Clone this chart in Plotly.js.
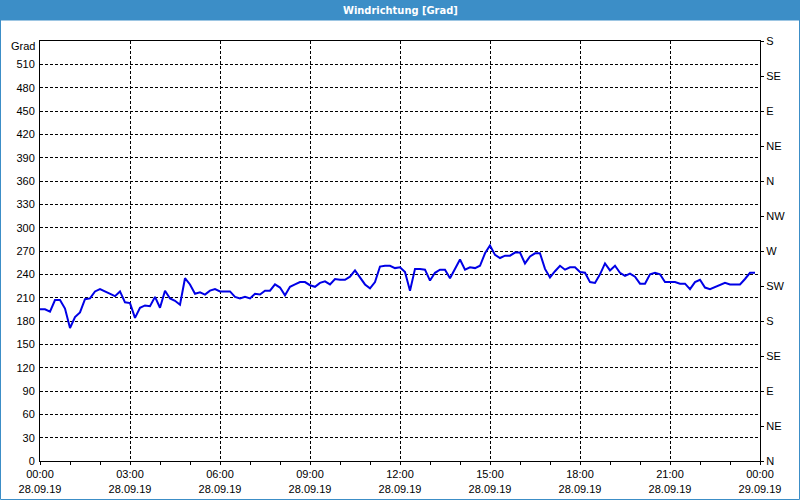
<!DOCTYPE html>
<html>
<head>
<meta charset="utf-8">
<script src="https://cdn.plot.ly/plotly-3.0.1.min.js"></script>
<style>html,body{margin:0;padding:0;background:#fff;}#chart{width:800px;height:500px;}</style>
</head>
<body>
<div id="chart"></div>
<script>
// Wind direction in degrees, one value every 10 minutes from 28.09.19 00:00
const startTime = '2019-09-28 00:00';
const endTime = '2019-09-29 00:00';
const stepMs = 600000;
const windDir = [
  195,195,192,207,207,196,171,185,191,208,209,218,221,218,216,212,218,204,203,184,
  197,200,199,211,197,219,209,206,201,235,227,215,217,214,219,221,218,
  218,218,211,209,211,209,215,214,219,219,227,223,213,224,227,230,230,226,224,229,
  231,227,234,233,233,237,245,236,227,222,230,250,251,251,248,249,
  243,219,247,247,246,232,242,246,246,235,247,259,246,249,248,251,267,277,265,261,
  264,264,268,268,254,263,267,267,247,236,244,251,246,249,249,243,
  242,230,229,240,254,245,251,242,238,241,237,228,228,240,242,240,230,230,230,228,
  228,221,230,233,223,221,224,227,229,227,227,227,234,242,242
];
const leftTicks = [0,30,60,90,120,150,180,210,240,270,300,330,360,390,420,450,480,510];
const rightTickVals = [0,45,90,135,180,225,270,315,360,405,450,495,540];
const rightTickText = ['N','NE','E','SE','S','SW','W','NW','N','NE','E','SE','S'];
const titleText = 'Windrichtung [Grad]';
const unitLabel = 'Grad';

const W = 800, H = 500, L = 40, R = 40, T = 41, B = 39;
const pw = W - L - R, ph = H - T - B;
const px = x => (x - L) / pw;
const py = y => (H - B - y) / ph;

const font = {family: 'Liberation Sans, Arial, sans-serif', size: 11, color: '#000'};

const trace = {
  type: 'scatter', mode: 'lines',
  x0: startTime, dx: stepMs,
  y: windDir,
  line: {color: 'rgb(0,0,230)', width: 2},
  hoverinfo: 'skip'
};
const dummy = {type:'scatter', mode:'lines', x:[startTime], y:[0], yaxis:'y2', showlegend:false, hoverinfo:'skip', line:{color:'rgba(0,0,0,0)'}};

const layout = {
  width: W, height: H,
  margin: {l: L, r: R, t: T, b: B, pad: 0},
  paper_bgcolor: '#ffffff', plot_bgcolor: '#ffffff',
  showlegend: false,
  font: font,
  xaxis: {
    type: 'date', range: [startTime, endTime],
    tick0: startTime, dtick: 3*3600000,
    tickformat: '%H:%M<br>%d.%m.%y',
    ticks: 'outside', ticklen: 3, tickcolor: '#000', tickwidth: 1,
    minor: {dtick: 3600000, ticks: 'outside', ticklen: 3, tickcolor: '#000', showgrid: false},
    showgrid: true, gridcolor: '#000', gridwidth: 1, griddash: '3px,2px',
    showline: true, linecolor: '#000', linewidth: 1, mirror: true,
    zeroline: false, tickfont: font, fixedrange: true
  },
  yaxis: {
    range: [0, 540], tickvals: leftTicks,
    ticks: '', showgrid: true, gridcolor: '#000', gridwidth: 1, griddash: '3px,2px',
    showline: true, linecolor: '#000', linewidth: 1,
    zeroline: false, tickfont: font, ticklabelstandoff: 2, fixedrange: true
  },
  yaxis2: {
    overlaying: 'y', side: 'right', range: [0, 540],
    tickvals: rightTickVals, ticktext: rightTickText,
    ticks: 'outside', ticklen: 3, tickcolor: '#000',
    showgrid: false, showline: true, linecolor: '#000', linewidth: 1,
    zeroline: false, tickfont: font, ticklabelstandoff: 0, fixedrange: true
  },
  shapes: [
    {type: 'rect', xref: 'paper', yref: 'paper', x0: px(0), x1: px(800), y0: py(20.5), y1: py(0),
     fillcolor: '#3c8ec7', line: {width: 0}, layer: 'below'},
    {type: 'rect', xref: 'paper', yref: 'paper', x0: px(0.5), x1: px(799.5), y0: py(499.5), y1: py(0),
     fillcolor: 'rgba(0,0,0,0)', line: {width: 1, color: '#3c8ec7'}}
  ],
  annotations: [
    {xref: 'paper', yref: 'paper', x: px(400), y: py(10.5), text: '<b>' + titleText + '</b>',
     showarrow: false, xanchor: 'center', yanchor: 'middle',
     font: {family: 'Liberation Sans Narrow, DejaVu Sans Condensed, Arial, sans-serif', size: 11, color: '#fff'}},
    {xref: 'paper', yref: 'paper', x: px(37), y: py(46), text: unitLabel,
     showarrow: false, xanchor: 'right', yanchor: 'middle', font: font}
  ]
};

Plotly.newPlot('chart', [trace, dummy], layout, {staticPlot: true, displayModeBar: false});
</script>
</body>
</html>
